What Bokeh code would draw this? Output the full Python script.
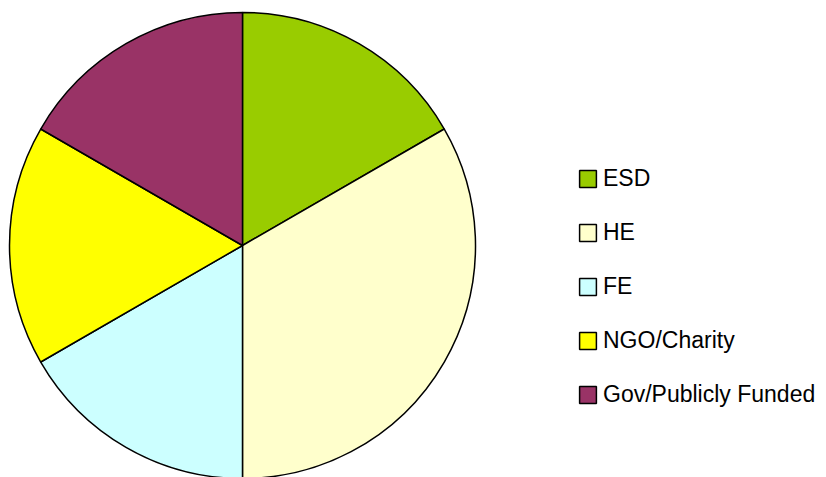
import math
from bokeh.plotting import figure
from bokeh.models import ColumnDataSource, Legend, LegendItem
from bokeh.embed import file_html
from bokeh.resources import INLINE

categories = ["ESD", "HE", "FE", "NGO/Charity", "Gov/Publicly Funded"]
values = [1, 2, 1, 1, 1]
colors = ["#99CC00", "#FFFFCC", "#CCFFFF", "#FFFF00", "#993366"]

W, H = 826, 477
total = sum(values)
starts, ends = [], []
cum = 0
for v in values:
    starts.append(math.pi / 2 - 2 * math.pi * cum / total)
    cum += v
    ends.append(math.pi / 2 - 2 * math.pi * cum / total)

src = ColumnDataSource(dict(cat=categories, val=values, color=colors,
                            start=starts, end=ends))

p = figure(width=W, height=H, output_backend="svg", toolbar_location=None,
           x_range=(0, W), y_range=(0, H), min_border=0)
p.axis.visible = False
p.grid.visible = False
p.outline_line_color = None

cx, cy, r = 242, H - 245, 233
r_wedge = p.wedge(x=cx, y=cy, radius=r, start_angle="start", end_angle="end",
                  direction="clock", fill_color="color", line_color="black",
                  line_width=1.5, source=src)

item_h = 27
spacing = 54 - item_h
top = 178 - item_h / 2
leg_h = 5 * item_h + 4 * spacing
legend = Legend(items=[LegendItem(label=c, renderers=[r_wedge], index=i)
                       for i, c in enumerate(categories)],
                location=(577, H - top - leg_h))
legend.label_text_font = "Liberation Sans"
legend.label_text_font_size = "23px"
legend.label_text_color = "black"
legend.glyph_width = 21
legend.glyph_height = 21
legend.label_height = item_h
legend.label_standoff = 5
legend.spacing = spacing
legend.padding = 0
legend.margin = 0
legend.border_line_alpha = 0
legend.background_fill_alpha = 0
p.add_layout(legend)

open("out.html", "w").write(file_html(p, INLINE))
